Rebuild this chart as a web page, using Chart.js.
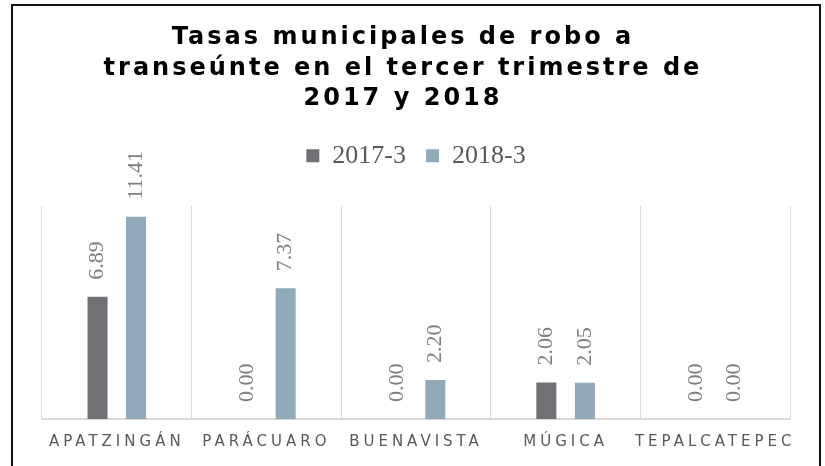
<!DOCTYPE html>
<html>
<head>
<meta charset="utf-8">
<script src="https://cdn.jsdelivr.net/npm/chart.js@4"></script>
<style>
  html, body { margin: 0; padding: 0; background: #fff; overflow: hidden; }
  #marco {
    position: absolute; left: 11px; top: 4px;
    width: 806px; height: 470px;
    border: 2px solid #111;
  }
  canvas { display: block; }
</style>
</head>
<body>
<div id="marco"><canvas id="migrafico" width="806" height="460"></canvas></div>
<script>
// datos
const municipios = ["APATZINGÁN", "PARÁCUARO", "BUENAVISTA", "MÚGICA", "TEPALCATEPEC"];
const tasas2017 = [6.89, 0.00, 0.00, 2.06, 0.00];
const tasas2018 = [11.41, 7.37, 2.20, 2.05, 0.00];
const titulo = ["Tasas municipales de robo a", "transeúnte en el tercer trimestre de", "2017 y 2018"];

const ctx = document.getElementById("migrafico").getContext("2d");

// Chart.js no tiene letterSpacing, se lo pongo al titulo y a las etiquetas del eje x
function espaciar(obj, metodo, ls, dx) {
    if (!obj || obj["_ls_" + metodo]) return;
    const orig = obj[metodo];
    obj[metodo] = function (...args) {
        const c = this.ctx;
        c.save();
        c.letterSpacing = ls;
        c.translate(dx, 0);
        orig.apply(this, args);
        c.restore();
    };
    obj["_ls_" + metodo] = true;
}

const espaciado = {
    id: "espaciado",
    beforeDraw(chart) {
        // el titulo del original queda un poco a la izquierda del centro
        espaciar(chart.titleBlock, "draw", "3px", -13);
        espaciar(chart.scales.x, "drawLabels", "4px", 0);
    }
};

// valores encima de cada barra, girados
const etiquetas = {
    id: "etiquetas",
    afterDatasetsDraw(chart) {
        const c = chart.ctx;
        chart.data.datasets.forEach((ds, i) => {
            chart.getDatasetMeta(i).data.forEach((bar, j) => {
                c.save();
                c.translate(bar.x, bar.y - 17);
                c.rotate(-Math.PI / 2);
                c.font = "22px 'Liberation Serif'";
                c.fillStyle = "#7f7f7f";
                c.textAlign = "left";
                c.textBaseline = "middle";
                c.fillText(ds.data[j].toFixed(2), 0, 0);
                c.restore();
            });
        });
    }
};

const myChart = new Chart(ctx, {
    type: "bar",
    data: {
        labels: municipios,
        datasets: [
            {
                label: "2017-3",
                data: tasas2017,
                backgroundColor: "#717075",
                borderWidth: 0,
                categoryPercentage: 0.515,
                barPercentage: 0.52
            },
            {
                label: "2018-3",
                data: tasas2018,
                backgroundColor: "#92a9b9",
                borderWidth: 0,
                categoryPercentage: 0.515,
                barPercentage: 0.52
            }
        ]
    },
    options: {
        responsive: false,
        animation: false,
        layout: {
            padding: { top: 0, left: 29, right: 29, bottom: 1 }
        },
        plugins: {
            title: {
                display: true,
                text: titulo,
                color: "#000",
                font: { family: "'DejaVu Sans'", size: 24, weight: "bold", lineHeight: 1.26 },
                padding: { top: 17, bottom: 9 }
            },
            subtitle: {
                // solo deja espacio entre la leyenda y el area del grafico
                display: true,
                text: "",
                weight: 500,
                font: { size: 10, lineHeight: 1.2 },
                padding: { top: 0, bottom: 15.5 }
            },
            legend: {
                position: "top",
                labels: {
                    color: "#595959",
                    font: { family: "'Liberation Serif'", size: 26 },
                    boxWidth: 13,
                    boxHeight: 13,
                    padding: 20
                }
            },
            tooltip: { enabled: false }
        },
        scales: {
            x: {
                grid: { color: "#d9d9d9", lineWidth: 1, drawTicks: false },
                border: { color: "#d9d9d9", width: 2 },
                ticks: {
                    color: "#595959",
                    font: { family: "'DejaVu Sans'", size: 15 },
                    padding: 14,
                    maxRotation: 0,
                    autoSkip: false
                }
            },
            y: {
                display: false,
                min: 0,
                max: 12
            }
        }
    },
    plugins: [espaciado, etiquetas]
});
</script>
</body>
</html>
